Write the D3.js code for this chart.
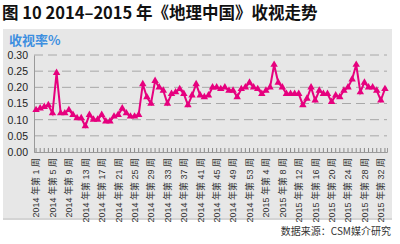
<!DOCTYPE html>
<html>
<head>
<meta charset="utf-8">
<script src="https://cdn.jsdelivr.net/npm/d3@7"></script>
<style>
  body { margin: 0; background: #fff; }
  svg { display: block; font-family: "Liberation Sans", "Noto Sans CJK SC", sans-serif; }
</style>
</head>
<body>
<div id="chart"></div>
<script>
const svgWidth = 400;
const svgHeight = 244;

// weekly ratings (%), 2014 week 1 .. 2015 week 33
const ratings = [
  0.13, 0.135, 0.14, 0.145, 0.12, 0.245, 0.12, 0.12, 0.13, 0.115,
  0.105, 0.105, 0.08, 0.115, 0.10, 0.10, 0.115, 0.095, 0.095, 0.11,
  0.115, 0.135, 0.12, 0.11, 0.11, 0.115, 0.21, 0.17, 0.15, 0.22,
  0.20, 0.19, 0.15, 0.18, 0.185, 0.195, 0.18, 0.145, 0.175, 0.21,
  0.175, 0.17, 0.175, 0.20, 0.20, 0.195, 0.20, 0.19, 0.19, 0.17,
  0.195, 0.20, 0.215, 0.20, 0.195, 0.18, 0.19, 0.20, 0.27, 0.215,
  0.20, 0.18, 0.18, 0.18, 0.18, 0.145, 0.165, 0.20, 0.16, 0.19,
  0.18, 0.18, 0.155, 0.175, 0.17, 0.19, 0.20, 0.225, 0.27, 0.185,
  0.215, 0.20, 0.20, 0.19, 0.16, 0.195
];
const years = [2014, 2015];
const weeksPerYear = [53, 33];
const yTicks = [0, 0.05, 0.10, 0.15, 0.20, 0.25, 0.30];
const labelEvery = 4;

const title = "图 10 2014–2015 年《地理中国》收视走势";
const yTitle = "收视率%";
const source = "数据来源：CSM媒介研究";

// category names, one per week
const categories = [];
years.forEach((yr, k) => {
  for (let w = 1; w <= weeksPerYear[k]; w++) categories.push(`${yr} 年第 ${w} 周`);
});

const plot = { left: 34, right: 387, top: 55, bottom: 152 };
const lineColor = "#e6007e";

const svg = d3.select("#chart")
  .append("svg")
  .attr("width", svgWidth)
  .attr("height", svgHeight);

// gray panel
svg.append("rect")
  .attr("x", 3).attr("y", 29)
  .attr("width", 389).attr("height", 190)
  .attr("fill", "#e7e7e7");
svg.append("line")
  .attr("x1", 3).attr("x2", 392)
  .attr("y1", 219).attr("y2", 219)
  .attr("stroke", "#d4d4d4").attr("stroke-width", 2);

// title
svg.append("text")
  .attr("x", 2).attr("y", 19)
  .style("font-family", "'Noto Sans CJK SC', sans-serif")
  .style("font-size", "16.5px")
  .style("font-weight", "bold")
  .attr("fill", "#111")
  .text(title);

svg.append("text")
  .attr("x", 9).attr("y", 45)
  .style("font-family", "'Noto Sans CJK SC', sans-serif")
  .style("font-size", "13px")
  .style("font-weight", "bold")
  .attr("fill", "#3d8fe0")
  .text(yTitle);

const xScale = d3.scaleBand()
  .domain(categories)
  .range([plot.left, plot.right])
  .padding(0);

const yScale = d3.scaleLinear()
  .domain([0, 0.30])
  .range([plot.bottom, plot.top]);

const cx = d => xScale(d) + xScale.bandwidth() / 2;

// gridlines
svg.selectAll(".grid")
  .data(yTicks.filter(t => t > 0))
  .enter()
  .append("line")
  .attr("class", "grid")
  .attr("x1", plot.left).attr("x2", plot.right)
  .attr("y1", d => yScale(d)).attr("y2", d => yScale(d))
  .attr("stroke", "#a8a8a8")
  .style("stroke-dasharray", "9,5");

// y axis
const yAxis = svg.append("g")
  .attr("transform", `translate(${plot.left}, 0)`)
  .call(d3.axisLeft(yScale).tickValues(yTicks).tickFormat(d3.format(".2f")).tickSize(0).tickPadding(6));
yAxis.select(".domain").attr("stroke", "#9a9a9a");
yAxis.selectAll("text")
  .style("font-family", "'Liberation Sans', sans-serif")
  .style("font-size", "10.5px")
  .attr("fill", "#222");

// x axis with a small tick for every week
const xAxis = svg.append("g")
  .attr("transform", `translate(0, ${plot.bottom})`)
  .call(d3.axisBottom(xScale).tickSize(-4).tickFormat(""));
xAxis.select(".domain").attr("stroke", "#9a9a9a");
xAxis.selectAll(".tick line").attr("stroke", "#8a8a8a");

// rotated week labels
svg.selectAll(".xlabel")
  .data(categories.filter((d, i) => i % labelEvery === 0 && i < 53 || (i >= 53 && (i - 53 + 1) % labelEvery === 0)))
  .enter()
  .append("text")
  .attr("class", "xlabel")
  .attr("transform", d => `translate(${cx(d) + 1}, 158) rotate(-90)`)
  .attr("text-anchor", "end")
  .attr("dominant-baseline", "middle")
  .style("font-size", "9px")
  .attr("fill", "#333")
  .text(d => d);

// line
const line = d3.line()
  .x((d, i) => cx(categories[i]))
  .y(d => yScale(d));

svg.append("path")
  .datum(ratings)
  .attr("d", line)
  .attr("fill", "none")
  .attr("stroke", lineColor)
  .attr("stroke-width", 2);

svg.selectAll(".marker")
  .data(ratings)
  .enter()
  .append("path")
  .attr("class", "marker")
  .attr("d", d3.symbol().type(d3.symbolTriangle).size(24))
  .attr("transform", (d, i) => `translate(${cx(categories[i])}, ${yScale(d)})`)
  .attr("fill", lineColor);

// source note
svg.append("text")
  .attr("x", 391).attr("y", 235)
  .attr("text-anchor", "end")
  .style("font-family", "'Noto Sans CJK SC', sans-serif")
  .style("font-size", "10px")
  .attr("fill", "#333")
  .text(source);
</script>
</body>
</html>
